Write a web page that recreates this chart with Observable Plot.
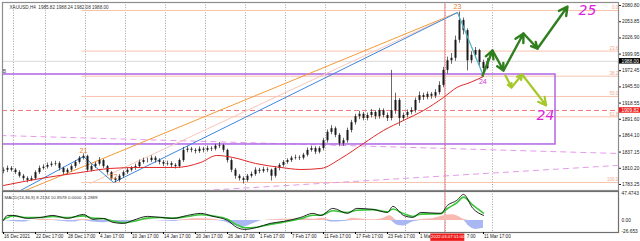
<!DOCTYPE html>
<html><head><meta charset="utf-8">
<script src="https://cdn.jsdelivr.net/npm/d3@7"></script>
<script src="https://cdn.jsdelivr.net/npm/@observablehq/plot@0.6"></script>
<style>
html,body{margin:0;padding:0;background:#fff;}
#chart svg{display:block;}
</style></head><body><div id="chart"></div>
<script>
// ---- price data (H4, sampled every 3 bars) ----
const barStep = 3;
const firstOpen = 1805;
const closes = [1807,1810,1807,1803,1797,1793,1790,1793,1803,1810,
 1812,1815,1817,1818,1810,1803,1807,1813,1820,1827,
 1830,1807,1813,1817,1823,1813,1803,1793,1790,1797,
 1803,1807,1810,1813,1820,1823,1823,1827,1823,1820,
 1817,1818,1815,1813,1823,1840,1842,1840,1838,1842,
 1840,1843,1842,1847,1848,1840,1823,1807,1797,1793,
 1790,1797,1800,1807,1805,1808,1807,1797,1810,1815,
 1820,1823,1827,1828,1827,1832,1840,1843,1837,1843,
 1856,1870,1876,1865,1851,1856,1873,1886,1896,1900,
 1893,1898,1903,1896,1906,1898,1893,1906,1923,1893,
 1898,1903,1906,1923,1931,1928,1933,1930,1936,1948,
 1973,1989,1993,2023,2056,2039,1989,1998,2006,1986,
 1976,1988];
const highs = [1811,1814,1813,1810,1806,1800,1796,1797,1806,1814,
 1816,1819,1821,1822,1821,1812,1810,1816,1823,1830,
 1834,1832,1816,1820,1828,1825,1815,1805,1795,1800,
 1806,1810,1813,1817,1824,1827,1827,1831,1830,1826,
 1823,1822,1821,1818,1826,1845,1846,1845,1843,1846,
 1845,1847,1846,1850,1853,1850,1842,1826,1810,1800,
 1796,1800,1804,1811,1810,1812,1811,1809,1813,1818,
 1823,1826,1830,1832,1831,1835,1844,1847,1846,1846,
 1860,1874,1881,1879,1868,1860,1877,1890,1900,1905,
 1903,1902,1908,1906,1910,1909,1902,1973,1935,1926,
 1902,1907,1911,1927,1937,1935,1937,1936,1941,1954,
 1978,1995,2001,2030,2070,2060,2042,2004,2011,2008,
 1990,1993];
const lows = [1801,1803,1804,1800,1794,1789,1786,1788,1791,1800,
 1807,1809,1812,1814,1806,1799,1800,1804,1810,1817,
 1824,1803,1804,1810,1814,1810,1799,1790,1786,1787,
 1794,1800,1804,1807,1810,1817,1819,1820,1819,1816,
 1813,1814,1811,1809,1810,1820,1836,1836,1834,1835,
 1836,1837,1838,1839,1843,1836,1819,1803,1792,1789,
 1784,1787,1794,1797,1801,1802,1803,1789,1794,1806,
 1812,1817,1820,1824,1823,1824,1829,1837,1833,1834,
 1839,1852,1866,1861,1846,1847,1852,1869,1882,1891,
 1889,1889,1894,1891,1892,1894,1888,1889,1900,1880,
 1888,1894,1899,1902,1918,1923,1924,1925,1926,1932,
 1944,1967,1983,1988,2018,2032,1972,1984,1993,1980,
 1970,1974];

// slow moving average (red)
const maBars = [0,28,58,80,103,129,148,160,172,189,208,223,238,253,270,285,300,315,330,340,350,360];
const maPrices = [1781.6,1793.3,1803.3,1809.9,1811.6,1811.6,1819.9,1831.5,1828.2,1818.2,1811.6,1808.2,1809.9,1826.5,1851.4,1873.1,1889.7,1906.3,1927.9,1944.5,1952.8,1962.8];

// pivots 21..24
const pivotLabels = ["21","22","23","24"];
const pivotBars = [60, 82.5, 340.5, 359.5];
const pivotPrices = [1829.8, 1786.6, 2069.2, 1966.1];

// trend line starts
const orangeStart = [0, 1758.4];
const faintStart = [65, 1785.0];
const blueStart = [12.75, 1773.3];

// horizontal levels
const fibLabels = ["0.0","23.6","38.2","50.0","61.8","100.0"];
const fibPrices = [2072.5, 2005.0, 1963.3, 1929.6, 1895.8, 1786.6];
const fibStartBar = 59;
const boxBars = [-5, 414];
const boxPrices = [1849.8, 1966.1];
const redLevel = 1906.3;
const redLevelText = "1909.82";
const lastClose = 1988.00;
const pinkLineA = [[-2.25, 1864.7],[461.25, 1834.8]];
const pinkLineB = [[150, 1773.2],[460.5, 1814.9]];

// projected paths
const darkBars = [359.3, 366.8, 375, 390, 400.5, 423];
const darkPrices = [1964.5, 2006.0, 1972.8, 2034.3, 2009.3, 2079.1];
const limeBars = [376.5, 381, 389, 407];
const limePrices = [1964.5, 1944.5, 1966.1, 1914.6];
const note25 = [438, 2072.5, "25"];
const note24 = [406.5, 1898, "24"];

// axes
const priceTicks = [2080.80, 2053.85, 2026.90, 1999.95, 1972.45, 1945.50, 1918.55, 1891.60, 1864.10, 1837.15, 1810.20, 1783.25];
const timeLabels = ["16 Dec 2021","22 Dec 17:00","28 Dec 17:00","4 Jan 17:00","10 Jan 17:00","14 Jan 17:00","20 Jan 17:00","26 Jan 17:00","1 Feb 17:00","7 Feb 17:00","11 Feb 17:00","17 Feb 17:00","23 Feb 17:00","1 Ma","7:00","11 Mar 17:00"];
const timeLabelBars = [0,24,48,72,96,120,144,168,192,216,240,264,288,312,347,360];
const gridBars = [7.5,31.5,61.5,91.5,121.5,151.5,181.5,211.5,241.5,271.5,301.5,331.5,366.75];
const crossBar = 331;
const crossBox = [320.5, 346];
const crossText = "2022.03.07 01:00";
const titleText = "XAUUSD,H4  1985.82 1988.24 1982.08 1988.00";

// MACD
const macdTitle = "MACD(13,36,9) 8.2134 10.8578 0.0000 -5.2889";
const macdBars = [0,3,7,18,28,37,48,60,67,75,82,90,97,108,118,127,138,148,157,168,175,181,190,200,210,223,232,238,247,258,265,277,288,292,300,307,313,328,333,340,345,352,360];
const macdValues = [0,8.8,8.8,3.5,5.3,8.8,3.5,10.6,1.8,3.5,-3.5,-5.3,0,7.1,5.3,3.5,8.8,12.4,7.1,0,-12.4,-15.9,-12.4,-5.3,-1.8,5.3,12.4,8.8,21.2,12.4,21.2,19.4,14.1,24.7,8.8,5.3,14.1,12.4,26.5,35.3,45.9,21.2,8.8];
const signalValues = [1,5,8,5,5,7,5,8,4,3,-1,-4,-2,4,5,4,7,10,8,2,-8,-13,-12,-7,-3,3,9,9,17,14,18,19,15,20,12,7,11,12,21,31,41,27,13];
const histBars = [0,7,15,22,30,37,45,52,60,67,75,82,90,97,105,112,120,127,135,142,150,157,165,172,180,187,195,202,210,217,225,232,240,247,255,262,270,277,285,290,295,300,307,315,322,330,336,340,345,349,354,360];
const histValues = [0,-2,-3,0,2,1,-2,-3,2,-3,-4,-3,-4,-2,1,0,-1,-2,1,3,3,2,-2,-8,-12,-6,0,1,2,2,3,2,4,-3,-2,4,2,1,4,8,-8,-10,-3,2,3,8,10,8,2,-10,-16,-14];
const macdTicks = [47.4743, 0, -26.653];
const macdTickText = ["47.4743","0.00","-26.653"];

// ---- build ----
const candles = closes.map((c, i) => ({bar: i * barStep, open: i ? closes[i - 1] : firstOpen, close: c, high: highs[i], low: lows[i]}));
const ma = maBars.map((b, i) => ({bar: b, price: maPrices[i]}));
const xScale = {domain: [0, 462], range: [3, 619], axis: null};
const font = "Liberation Sans, Arial, sans-serif";
const seg = (bars, prices) => bars.slice(0, -1).map((b, i) => ({x1: b, y1: prices[i], x2: bars[i + 1], y2: prices[i + 1]}));
const link = (a, b, opts) => Plot.link([0], {x1: () => a[0], y1: () => a[1], x2: () => b[0], y2: () => b[1], clip: true, ...opts});
const p = i => [pivotBars[i], pivotPrices[i]];

const main = Plot.plot({
  width: 640, height: 191,
  marginTop: 2, marginLeft: 2, marginRight: 22, marginBottom: 1,
  x: xScale,
  y: {domain: [1783.25, 2080.8], range: [184, 5], axis: null},
  style: {fontFamily: font, background: "#fff", overflow: "visible"},
  marks: [
    Plot.ruleX(gridBars, {stroke: "#8c8c8c", strokeDasharray: "1,1.6", strokeWidth: 0.8}),
    Plot.ruleY(fibPrices, {x1: () => fibStartBar, x2: () => 462, stroke: "#f7c3ad", strokeWidth: 1}),
    Plot.ruleY([lastClose], {stroke: "#d8d8d8", strokeWidth: 1}),
    Plot.ruleY([redLevel], {stroke: "#ee7b7b", strokeDasharray: "5,3", strokeWidth: 1}),
    link(pinkLineA[0], pinkLineA[1], {stroke: "#e49be8", strokeDasharray: "6,4", strokeWidth: 1}),
    link(pinkLineB[0], pinkLineB[1], {stroke: "#e49be8", strokeDasharray: "6,4", strokeWidth: 1}),
    Plot.ruleX([crossBar], {stroke: "#f08a8a", strokeWidth: 1}),
    Plot.rect([0], {x1: () => boxBars[0], x2: () => boxBars[1], y1: () => boxPrices[0], y2: () => boxPrices[1], fill: "none", stroke: "#b46fe6", strokeWidth: 1.6, clip: true}),
    link(orangeStart, p(2), {stroke: "#f39b3a", strokeWidth: 1}),
    link(faintStart, p(2), {stroke: "#f8c7bb", strokeWidth: 1}),
    link(p(1), p(2), {stroke: "#3d86dc", strokeWidth: 1}),
    link(blueStart, p(0), {stroke: "#3d86dc", strokeWidth: 1}),
    link(p(0), p(1), {stroke: "#3d86dc", strokeWidth: 1}),
    Plot.ruleX(candles, {x: "bar", y1: "low", y2: "high", stroke: "#2a2a2a", strokeWidth: 0.7}),
    Plot.ruleX(candles, {x: "bar", y1: "open", y2: "close", stroke: "#1a1a1a", strokeWidth: 2}),
    Plot.line(ma, {x: "bar", y: "price", stroke: "#e02626", strokeWidth: 1, curve: "monotone-x"}),
    link(p(2), p(3), {stroke: "#4fb0c8", strokeWidth: 1.2}),
    Plot.arrow(seg(darkBars, darkPrices), {x1: "x1", y1: "y1", x2: "x2", y2: "y2", stroke: "#2f7f1f", strokeWidth: 2.4, headLength: 6, headAngle: 55}),
    Plot.arrow(seg(limeBars, limePrices), {x1: "x1", y1: "y1", x2: "x2", y2: "y2", stroke: "#a6c92a", strokeWidth: 2.2, headLength: 6, headAngle: 55}),
    Plot.text(pivotLabels.slice(0, 3), {x: (d, i) => pivotBars[i], y: (d, i) => pivotPrices[i], text: d => d, fill: "#e8802c", fontSize: 7, dy: (-6)}),
    Plot.text([pivotLabels[3]], {x: () => pivotBars[3], y: () => pivotPrices[3], text: d => d, fill: "#d23cd2", fontSize: 7, dy: 7}),
    Plot.text([note25], {x: d => d[0], y: d => d[1], text: d => d[2], fill: "#dd22dd", fontSize: 14, fontStyle: "italic", fontFamily: "DejaVu Sans"}),
    Plot.text([note24], {x: d => d[0], y: d => d[1], text: d => d[2], fill: "#dd22dd", fontSize: 14, fontStyle: "italic", fontFamily: "DejaVu Sans"}),
    Plot.text(fibLabels, {x: () => 461, y: (d, i) => fibPrices[i], text: d => d, textAnchor: "end", dy: -2.5, fontSize: 4.5, fill: "#f0a98c"}),
    Plot.text([titleText], {frameAnchor: "top-left", dx: 7, dy: 3, fontSize: 4.6, fill: "#333"}),
    Plot.text(["B"], {x: () => 0, y: () => 1972, dx: 1, fontSize: 5, fill: "#444"}),
    Plot.frame({stroke: "#8d8d8d", strokeWidth: 1.2}),
    Plot.axisY(priceTicks, {anchor: "right", label: null, tickSize: 2, tickPadding: 1.5, tickFormat: d => d.toFixed(2), fontSize: 4.8, color: "#222"}),
    Plot.rect([lastClose], {x1: () => 462, x2: () => 478, y1: d => d - 4.6, y2: d => d + 4.6, fill: "#000"}),
    Plot.text([lastClose], {x: () => 462, y: d => d, dx: 2, textAnchor: "start", text: d => d.toFixed(2), fill: "#fff", fontSize: 4.8}),
    Plot.rect([redLevel], {x1: () => 462, x2: () => 478, y1: d => d - 4.6, y2: d => d + 4.6, fill: "#ee1c1c"}),
    Plot.text([redLevel], {x: () => 462, y: d => d, dx: 2, textAnchor: "start", text: () => redLevelText, fill: "#fff", fontSize: 4.8})
  ]
});

const macd = macdBars.map((b, i) => ({bar: b, v: macdValues[i], s: signalValues[i]}));
const hist = histBars.map((b, i) => ({bar: b, pos: Math.max(0, histValues[i]), neg: Math.min(0, histValues[i])}));

const lower = Plot.plot({
  width: 640, height: 50,
  marginTop: 0, marginBottom: 9, marginLeft: 2, marginRight: 22,
  x: xScale,
  y: {domain: [-26.653, 47.4743], range: [44, 2], axis: null},
  style: {fontFamily: font, background: "#fff", overflow: "visible"},
  marks: [
    Plot.ruleX(gridBars, {stroke: "#8c8c8c", strokeDasharray: "1,1.6", strokeWidth: 0.8}),
    Plot.ruleX([crossBar], {stroke: "#f08a8a", strokeWidth: 1}),
    Plot.area(hist, {x1: "bar", y1: () => 0, y2: "pos", fill: "#f7b9b1", curve: "monotone-x"}),
    Plot.area(hist, {x1: "bar", y1: () => 0, y2: "neg", fill: "#a9b7f2", curve: "monotone-x"}),
    Plot.line(macd, {x: "bar", y: "s", stroke: "#39c739", strokeWidth: 1.6, curve: "monotone-x"}),
    Plot.line(macd, {x: "bar", y: "v", stroke: "#111", strokeWidth: 0.9, curve: "monotone-x"}),
    Plot.text([macdTitle], {frameAnchor: "top-left", dx: 2, dy: 4, fontSize: 4.4, fill: "#333"}),
    Plot.frame({stroke: "#6e6e6e", strokeWidth: 1.2}),
    Plot.text(macdTicks.slice(0, 2), {x: () => 462, y: d => d, dx: 2, textAnchor: "start", text: (d, i) => macdTickText[i], fontSize: 4.8, fill: "#222"}),
    Plot.text([macdTicks[2]], {x: () => 462, y: d => d, dx: 2, dy: -4, textAnchor: "start", text: () => macdTickText[2], fontSize: 4.8, fill: "#222"}),
    Plot.axisX(timeLabelBars.filter((b, i) => i !== 14), {anchor: "bottom", label: null, tickSize: 2, tickFormat: () => ""}),
    Plot.text(timeLabels, {x: (d, i) => timeLabelBars[i], frameAnchor: "bottom", text: d => d, textAnchor: "start", lineAnchor: "top", dy: 2.5, dx: 0.5, fontSize: 4.6, fill: "#222"}),
    Plot.rect([0], {x1: () => crossBox[0], x2: () => crossBox[1], y1: () => -37, y2: () => -24, fill: "#ee1c1c"}),
    Plot.text([crossText], {x: () => (crossBox[0] + crossBox[1]) / 2, frameAnchor: "bottom", text: d => d, lineAnchor: "top", dy: 2.6, fontSize: 4.3, fill: "#fff"})
  ]
});

document.getElementById("chart").append(main, lower);
</script></body></html>
